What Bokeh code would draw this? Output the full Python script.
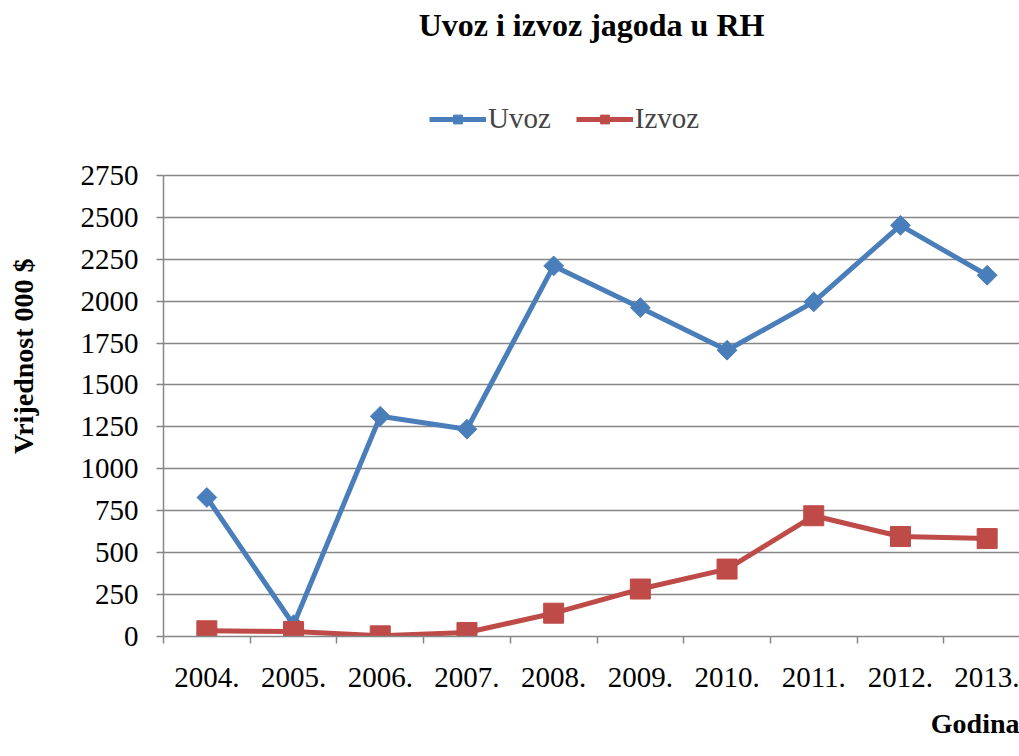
from bokeh.plotting import figure
from bokeh.models import (Range1d, FixedTicker, Legend, LegendItem, Title)
from bokeh.embed import file_html
from bokeh.resources import INLINE
import math

years = ["2004.", "2005.", "2006.", "2007.", "2008.", "2009.", "2010.", "2011.", "2012.", "2013."]
uvoz = [829, 70, 1313, 1236, 2210, 1961, 1707, 1995, 2452, 2154]
izvoz = [34, 30, 4, 24, 139, 283, 402, 720, 596, 584]
y_ticks = [0, 250, 500, 750, 1000, 1250, 1500, 1750, 2000, 2250, 2500, 2750]

xs = list(range(len(years)))

BLUE = "#4A7EBB"
RED = "#BE4B48"
GRID = "#868686"
FONT = "Liberation Serif"

W, H = 1019, 756
# frame spans page y 42..636; value 2750 sits at y=175
p = figure(width=W, height=H, output_backend="svg", toolbar_location=None,
           title_location=None,
           x_range=Range1d(-0.5, 9.373), y_range=Range1d(0, 3542),
           min_border_left=163, min_border_right=0, min_border_top=42,
           min_border_bottom=120)
p.outline_line_color = None
p.background_fill_color = "white"
p.border_fill_color = "white"

ul = p.line(xs, uvoz, line_color=BLUE, line_width=5, line_join="round")
us = p.scatter(xs, uvoz, marker="square", size=14, angle=math.pi / 4,
               fill_color=BLUE, line_color=BLUE)
il = p.line(xs, izvoz, line_color=RED, line_width=5, line_join="round")
is_ = p.scatter(xs, izvoz, marker="square", size=20,
                fill_color=RED, line_color=RED)

# axes
p.xaxis.ticker = FixedTicker(ticks=xs, minor_ticks=[i - 0.5 for i in range(len(years) + 1)])
p.xaxis.major_label_overrides = {i: y for i, y in enumerate(years)}
p.xaxis.major_tick_out = 0
p.xaxis.major_tick_in = 0
p.xaxis.minor_tick_out = 7
p.xaxis.minor_tick_in = 0
p.xaxis.minor_tick_line_color = GRID
p.xaxis.minor_tick_line_width = 1.5
p.xaxis.major_label_standoff = 24

p.yaxis.ticker = FixedTicker(ticks=y_ticks)
p.yaxis.bounds = (0, 2750)
p.yaxis.major_tick_out = 7
p.yaxis.major_tick_in = 0
p.yaxis.minor_tick_out = 0
p.yaxis.minor_tick_in = 0
p.yaxis.major_label_standoff = 18
# blank spacer label keeps the real axis title further left
p.yaxis.axis_label = " "
p.yaxis.axis_label_text_font = FONT
p.yaxis.axis_label_text_font_size = "28px"
p.yaxis.axis_label_standoff = 3

for ax in (p.xaxis, p.yaxis):
    ax.axis_line_color = GRID
    ax.axis_line_width = 1.5
    ax.major_tick_line_color = GRID
    ax.major_tick_line_width = 1.5
    ax.major_label_text_font = FONT
    ax.major_label_text_font_size = "29px"
    ax.major_label_text_color = "black"

p.xgrid.grid_line_color = None
p.ygrid.grid_line_color = GRID
p.ygrid.grid_line_width = 1.5

legend = Legend(items=[LegendItem(label="Uvoz", renderers=[ul, us]),
                       LegendItem(label="Izvoz", renderers=[il, is_])],
                orientation="horizontal", location=(266, 501),
                glyph_width=57, glyph_height=22, label_standoff=2, spacing=25,
                label_text_font=FONT, label_text_font_size="29px",
                border_line_color=None, background_fill_alpha=0,
                margin=0, padding=4)
p.add_layout(legend, "center")

title = Title(text="Uvoz i izvoz jagoda u RH", align="center",
              text_font=FONT, text_font_size="32px", text_font_style="bold",
              text_color="black", standoff=0)
p.add_layout(title, "above")

ylab = Title(text="Vrijednost 000 $", align="right", offset=216,
             text_font=FONT, text_font_size="28px", text_font_style="bold",
             text_color="black", standoff=4)
p.add_layout(ylab, "left")

xlab = Title(text="Godina", align="right",
             text_font=FONT, text_font_size="28px", text_font_style="bold",
             text_color="black", standoff=32)
p.add_layout(xlab, "below")

open("out.html", "w").write(file_html(p, INLINE))
